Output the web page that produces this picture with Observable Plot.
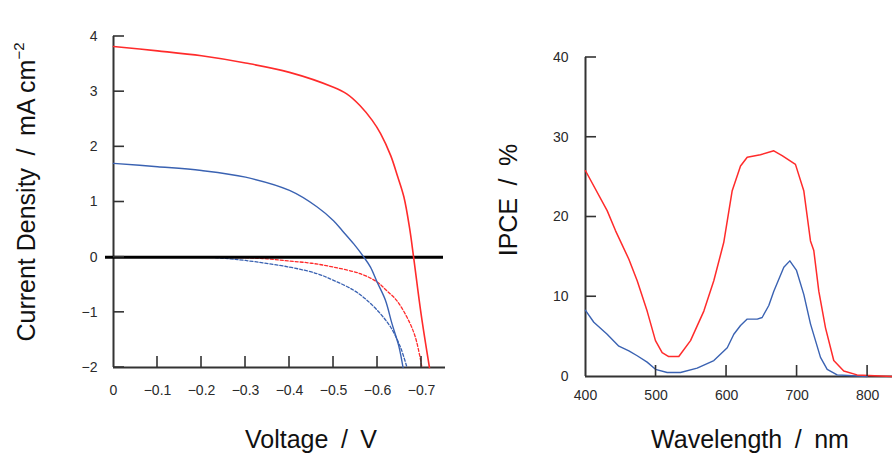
<!DOCTYPE html>
<html><head><meta charset="utf-8">
<script src="https://cdn.jsdelivr.net/npm/d3@7"></script>
<script src="https://cdn.jsdelivr.net/npm/@observablehq/plot@0.6"></script>
<style>
html,body{margin:0;padding:0;background:#fff;}
#wrap{position:relative;width:892px;height:457px;overflow:hidden;background:#fff;}
#left{position:absolute;left:0;top:0;}
#right{position:absolute;left:460px;top:0;}
</style></head><body><div id="wrap"><div id="left"></div><div id="right"></div></div>
<script>
// ---- J-V data (left panel) ----
const redLightV = [0,-0.1,-0.2,-0.3,-0.4,-0.5,-0.53,-0.56,-0.588,-0.607,-0.63,-0.645,-0.66,-0.673,-0.682,-0.699,-0.718];
const redLightJ = [3.82,3.74,3.65,3.52,3.35,3.08,2.96,2.75,2.48,2.24,1.84,1.48,1.09,0.52,0,-1.03,-2];
const blueLightV = [0,-0.1,-0.2,-0.3,-0.4,-0.463,-0.5,-0.52,-0.546,-0.569,-0.584,-0.599,-0.618,-0.633,-0.648,-0.658];
const blueLightJ = [1.70,1.64,1.57,1.45,1.21,0.91,0.66,0.48,0.24,0,-0.18,-0.45,-0.78,-1.21,-1.60,-2];
const redDarkV = [-0.22,-0.3,-0.349,-0.4,-0.45,-0.5,-0.561,-0.599,-0.62,-0.643,-0.667,-0.686,-0.701];
const redDarkJ = [0,-0.01,-0.03,-0.07,-0.11,-0.18,-0.30,-0.45,-0.60,-0.78,-1.09,-1.45,-2];
const blueDarkV = [-0.22,-0.25,-0.3,-0.4,-0.463,-0.5,-0.546,-0.576,-0.607,-0.63,-0.652,-0.667];
const blueDarkJ = [0,-0.02,-0.06,-0.18,-0.30,-0.42,-0.60,-0.78,-1.03,-1.27,-1.63,-2];
const voltageTicks = [0,-0.1,-0.2,-0.3,-0.4,-0.5,-0.6,-0.7];
const currentTicks = [-2,-1,0,1,2,3,4];

// ---- IPCE data (right panel) ----
const redWl = [400,430.7,442.5,461.5,473.3,487.4,499.2,508.7,518,532.3,548.9,567.8,581.9,596,608,619.8,629.3,648,667,678.8,697.7,709.5,719,723.7,730.8,740.3,752,766.2,785,835];
const redIpce = [25.8,20.8,18.3,14.7,12.0,8.2,4.5,3.0,2.5,2.5,4.5,8.2,12.0,16.8,23.3,26.4,27.5,27.8,28.3,27.7,26.6,23.3,17.0,15.8,10.7,6.1,2.0,0.7,0.2,0.0];
const blueWl = [400,411.8,430.7,447.3,461.5,473.3,487.4,499.2,515.8,534.7,558.3,582,601,610.3,619.8,629.3,643.5,650.5,659.9,667,681.2,689.7,699.2,709.5,719,726.1,733.2,742.7,756.8,799.3];
const blueIpce = [8.3,6.8,5.3,3.8,3.2,2.6,1.8,0.9,0.5,0.5,1.05,2.0,3.6,5.3,6.4,7.2,7.2,7.4,8.9,10.7,13.7,14.5,13.3,10.3,6.6,4.5,2.4,0.9,0.2,0.0];
const wlTicks = [400,500,600,700,800];
const ipceTicks = [0,10,20,30,40];

const RED = "#ff2b2b", BLUE = "#3a62b2", AXIS = "#333333";
const tickFont = "'Liberation Sans','Arial',sans-serif";
const labelFont = "'Liberation Sans','Arial',sans-serif";
const TICK = 11;

const zip = (xs, ys) => xs.map((x, i) => ({x, y: ys[i]}));
const fmtV = d3.format(".1~f");
const fmtI = d3.format("~f");

const leftX = [0, -0.7545], leftY = [-2, 4];
const left = Plot.plot({
  width: 460, height: 457, marginLeft: 113, marginRight: 15, marginTop: 36, marginBottom: 90,
  style: {fontFamily: tickFont, fontSize: "14px", color: "#2a2a2a", background: "transparent", overflow: "visible"},
  x: {domain: leftX, label: null},
  y: {domain: leftY, label: null},
  marks: [
    Plot.axisY({ticks: currentTicks, tickSize: 0, tickPadding: 16, tickFormat: fmtI, label: null}),
    Plot.axisX({ticks: voltageTicks, tickSize: 0, tickPadding: 18, tickFormat: fmtV, label: null}),
    Plot.ruleX([leftX[0]], {stroke: AXIS, strokeWidth: 2}),
    Plot.ruleY([leftY[0]], {stroke: AXIS, strokeWidth: 2}),
    Plot.line(zip(redDarkV, redDarkJ), {x: "x", y: "y", stroke: RED, strokeWidth: 1.3, strokeDasharray: "3,2", curve: "catmull-rom"}),
    Plot.line(zip(blueDarkV, blueDarkJ), {x: "x", y: "y", stroke: BLUE, strokeWidth: 1.3, strokeDasharray: "3,2", curve: "catmull-rom"}),
    Plot.ruleY([0], {stroke: "#000", strokeWidth: 3, insetLeft: -8, insetRight: 2}),
    Plot.line(zip(blueLightV, blueLightJ), {x: "x", y: "y", stroke: BLUE, strokeWidth: 1.4, curve: "catmull-rom"}),
    Plot.line(zip(redLightV, redLightJ), {x: "x", y: "y", stroke: RED, strokeWidth: 1.6, curve: "catmull-rom"})
  ]
});
document.getElementById("left").append(left);

const rightX = [400, 835.3], rightY = [0, 40];
const right = Plot.plot({
  width: 432, height: 457, marginLeft: 125, marginRight: 0, marginTop: 57, marginBottom: 81,
  style: {fontFamily: tickFont, fontSize: "14px", color: "#2a2a2a", background: "transparent", overflow: "visible"},
  x: {domain: rightX, label: null},
  y: {domain: rightY, label: null},
  marks: [
    Plot.axisY({ticks: ipceTicks, tickSize: 0, tickPadding: 17, tickFormat: fmtI, label: null}),
    Plot.axisX({ticks: wlTicks, tickSize: 0, tickPadding: 14, tickFormat: fmtI, label: null}),
    Plot.ruleX([rightX[0]], {stroke: AXIS, strokeWidth: 2}),
    Plot.ruleY([rightY[0]], {stroke: AXIS, strokeWidth: 2}),
    Plot.line(zip(blueWl, blueIpce), {x: "x", y: "y", stroke: BLUE, strokeWidth: 1.4}),
    Plot.line(zip(redWl, redIpce), {x: "x", y: "y", stroke: RED, strokeWidth: 1.5})
  ]
});
document.getElementById("right").append(right);

// inward ticks, placed with the plot's own scales
function inwardTicks(svg, xTicks, yTicks) {
  const sx = svg.scale("x"), sy = svg.scale("y");
  const x0 = sx.apply(sx.domain[0]), y0 = sy.apply(sy.domain[0]);
  const g = d3.select(svg).append("g").attr("stroke", AXIS).attr("stroke-width", 1.6);
  xTicks.forEach(v => { const px = sx.apply(v); g.append("line").attr("x1", px).attr("x2", px).attr("y1", y0).attr("y2", y0 - TICK); });
  yTicks.forEach(v => { const py = sy.apply(v); g.append("line").attr("x1", x0).attr("x2", x0 + TICK).attr("y1", py).attr("y2", py); });
}
inwardTicks(left, voltageTicks.slice(1), currentTicks);
inwardTicks(right, wlTicks.slice(1), ipceTicks.slice(1));

// axis titles
function title(svg, x, y, rot, parts) {
  const t = d3.select(svg).append("text")
    .attr("transform", `translate(${x},${y})` + (rot ? ` rotate(${rot})` : ""))
    .attr("text-anchor", "middle")
    .attr("font-family", labelFont)
    .attr("font-size", 25)
    .attr("fill", "#111");
  parts.forEach(p => {
    const s = t.append("tspan").text(p.text);
    if (p.sup) s.attr("font-size", 15).attr("dy", -11);
  });
}
title(left, 35, 192, -90, [{text: "Current Density\u2002/\u2002mA cm"}, {text: "−2", sup: true}]);
title(left, 311, 448, 0, [{text: "Voltage\u2002/\u2002V"}]);
title(right, 57, 200, -90, [{text: "IPCE\u2002/\u2002%"}]);
title(right, 290, 448, 0, [{text: "Wavelength\u2002/\u2002nm"}]);
</script>
</body></html>
